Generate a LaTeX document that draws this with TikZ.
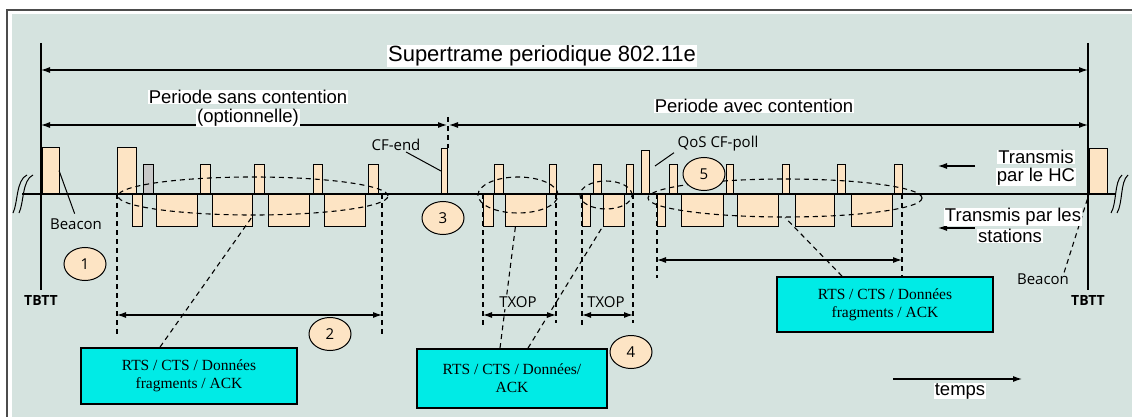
\documentclass[tikz,border=0pt]{standalone}
\usepackage{fontspec}
\setmainfont{Liberation Serif}
\newfontfamily\lblfont{Liberation Sans}
\newfontfamily\tagfont{Open Sans}
\usetikzlibrary{positioning,arrows.meta,shapes.geometric,calc}
\definecolor{panel}{HTML}{D5E3DF}
\definecolor{peach}{HTML}{FDE4C4}
\definecolor{cyanbox}{HTML}{00EBE6}
\definecolor{pollgray}{HTML}{C8C8C8}

\begin{document}
\begin{tikzpicture}[x=1pt, y=-1pt,
  hcbar/.style={draw, fill=peach, line width=0.9pt, inner sep=0pt, outer sep=0pt, anchor=south west, minimum height=30},
  stabar/.style={hcbar, anchor=north west, minimum height=32},
  dashell/.style={draw, ellipse, dash pattern=on 5pt off 4pt, line width=1.1pt, inner sep=0pt},
  guide/.style={dash pattern=on 5pt off 4pt, line width=1.1pt},
  numcirc/.style={draw, ellipse, fill=peach, line width=1pt, minimum width=42, minimum height=33, inner sep=0pt, font=\tagfont\fontsize{15}{15}\selectfont},
  infobox/.style={draw, fill=cyanbox, line width=1.8pt, align=center, inner sep=0pt, font=\fontsize{15.5}{18}\selectfont},
  biglbl/.style={fill=white, inner xsep=1pt, inner ysep=0.5pt, font=\lblfont\fontsize{18.5}{21}\selectfont},
  tag/.style={inner sep=1pt, font=\tagfont\fontsize{15}{16}\selectfont},
  spanarrow/.style={{Latex[length=9pt,width=6pt]}-{Latex[length=9pt,width=6pt]}, line width=1.1pt},
  ptrarrow/.style={-{Latex[length=9pt,width=6pt]}, line width=1.1pt}
]
\useasboundingbox (0,0) rectangle (1132,417);
% frame
\fill[white] (0,0) rectangle (1132,417);
\draw[black!70, line width=1.5pt] (7,10) rectangle (1150,430);
\fill[panel] (12,14) rectangle (1150,430);

% HC bars above the axis
\node[hcbar, minimum width=17, minimum height=47] (bcnL) at (42,194) {};
\node[hcbar, minimum width=19, minimum height=47] (cfp) at (117,194) {};
\node[hcbar, fill=pollgray, minimum width=10] (gry) at (143,194) {};
\foreach \xa/\w [count=\i] in {200/10, 254/10, 313/9, 368/10, 494/9, 549/7, 593/8, 626/7, 669/8, 726/7, 782/7, 837/8, 894/8}
  \node[hcbar, minimum width=\w] (up\i) at (\xa,194) {};
\node[hcbar, minimum width=6, minimum height=46] (cfend) at (441,194) {};
\node[hcbar, minimum width=8, minimum height=44] (qos) at (641,194) {};
\node[hcbar, minimum width=18, minimum height=46] (bcnR) at (1089,194) {};

% station bars below the axis
\foreach \xa/\w [count=\i] in {132/10, 156/41, 212/40, 268/41, 324/41, 483/10, 505/41, 582/8, 603/21, 657/8, 681/42, 737/41, 795/39, 851/41}
  \node[stabar, minimum width=\w] (dn\i) at (\xa,194) {};

% time axis, breaks and TBTT marks
\draw[line width=1.2pt] (22,194) -- (1115,194);
\foreach \xa in {13,19}
  \draw[line width=1pt] (\xa,213) .. controls (\xa+5,203) and (\xa+3,180) .. (\xa+14,175);
\foreach \xa in {1111,1117}
  \draw[line width=1pt] (\xa,213) .. controls (\xa+6,203) and (\xa+3,182) .. (\xa+11,175);
\draw[line width=2.4pt] (41,43) -- (41,290);
\draw[line width=2.4pt] (1088,43) -- (1088,290);

% dashed groups
\node[dashell, minimum width=270, minimum height=38] (ell1) at (253,196) {};
\node[dashell, minimum width=80, minimum height=36] (ell2) at (518,195) {};
\node[dashell, minimum width=52, minimum height=28] (ell3) at (606,195) {};
\node[dashell, minimum width=274, minimum height=38] (ell4) at (785,198) {};

\foreach \xa/\yb in {117/336, 382/336, 483/325, 556/323, 582/325, 633/323, 657/278, 902/276}
  \draw[guide] (\xa,194) -- (\xa,\yb);
\draw[guide] (448,117) -- (448,148);

% spans
\coordinate (sfL) at (41,70);
\coordinate (sfR) at (1088,70);
\coordinate (cpL) at (41,125);
\coordinate (cpM) at (448,125);
\coordinate (cpR) at (1088,125);
\draw[spanarrow] (sfL) -- (sfR);
\draw[spanarrow] (cpL) -- ([xshift=-1pt]cpM);
\draw[spanarrow] ([xshift=1pt]cpM) -- (cpR);
\foreach \xa/\xb/\yy in {117/382/315, 483/556/315, 582/633/315, 657/902/260}
  \draw[spanarrow] (\xa,\yy) -- (\xb,\yy);

% boxes
\node[infobox, minimum width=216, minimum height=56] (box1) at (189,376) {RTS / CTS / Données\\fragments / ACK};
\node[infobox, minimum width=190, minimum height=59] (box2) at (512,378.5) {RTS / CTS / Données/\\ACK};
\node[infobox, minimum width=216, minimum height=55] (box3) at (885,304.5) {RTS / CTS / Données\\fragments / ACK};

\draw[guide] ([xshift=-29pt]box1.north) -- (ell1.south);
\draw[guide] ([xshift=-12pt]box2.north) -- ([xshift=-10pt]dn7.south);
\draw[guide] ([xshift=16pt]box2.north) -- (dn9.south west);
\draw[guide] ([xshift=-43pt]box3.north) -- (ell4.south);

% small labels
\node[tag, font=\tagfont\bfseries\fontsize{14}{15}\selectfont] (tbttL) at (41,301) {TBTT};
\node[tag, font=\tagfont\bfseries\fontsize{14}{15}\selectfont] (tbttR) at (1088,301) {TBTT};
\node[tag] (bcnLlbl) at (76,224) {Beacon};
\node[tag] (bcnRlbl) at (1043,279) {Beacon};
\node[tag] (cflbl) at (396,145) {CF-end};
\node[tag] (qoslbl) at (718,144) {QoS CF-poll};
\node[tag, fill=panel] (txa) at (518,302) {TXOP};
\node[tag, fill=panel] (txb) at (606,302) {TXOP};

\draw[line width=1pt, shorten >=4pt] (bcnL.east) -- (bcnLlbl.north);
\draw[line width=1pt] ([xshift=10pt]cflbl.south) -- (cfend.west);
\draw[line width=1pt] ([xshift=6pt,yshift=6pt]qos.east) -- ([xshift=-44pt]qoslbl.south);
\draw[guide] ([xshift=-6pt]bcnRlbl.north east) -- (bcnR.south west);

% big labels
\node[biglbl, font=\lblfont\fontsize{22}{24}\selectfont] (sflbl) at (542,56) {Supertrame periodique 802.11e};
\node[biglbl] (cfplbl) at (248,97) {Periode sans contention};
\node[biglbl] (optlbl) at (248,118) {(optionnelle)};
\node[biglbl] (cplbl) at (754,106) {Periode avec contention};

\draw[ptrarrow] (975,166) -- (938,166);
\draw[ptrarrow] (975,228) -- (938,228);
\node[biglbl] (hc1) at (1036,157) {Transmis};
\node[biglbl] (hc2) at (1036,177) {par le HC};
\node[biglbl] (st1) at (1013,217) {Transmis par les};
\node[biglbl] (st2) at (1010,236) {stations};

\draw[ptrarrow] (893,379) -- (1022,379);
\node[biglbl] (tps) at (960,391) {temps};

% numbered marks
\node[numcirc] (n1) at (85,264) {1};
\node[numcirc] (n2) at (330,334) {2};
\node[numcirc] (n3) at (443,218) {3};
\node[numcirc] (n4) at (631,352) {4};
\node[numcirc] (n5) at (704,174) {5};
\end{tikzpicture}
\end{document}
